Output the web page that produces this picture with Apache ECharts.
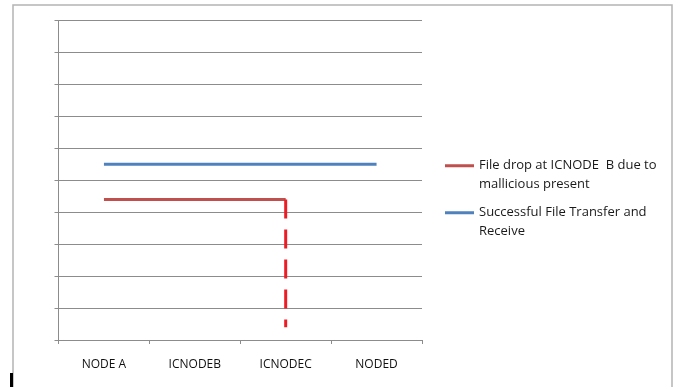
<!DOCTYPE html>
<html>
<head>
<meta charset="utf-8">
<script src="https://cdn.jsdelivr.net/npm/echarts@6/dist/echarts.min.js"></script>
<style>
  html, body { margin: 0; padding: 0; background: #fff; }
  #chart { width: 676px; height: 387px; }
</style>
</head>
<body>
<div id="chart"></div>
<script>
const categories = ['NODE A', 'ICNODEB', 'ICNODEC', 'NODED']
const dropName = 'File drop at ICNODE  B due to\nmallicious present'
const successName = 'Successful File Transfer and\nReceive'
const dropValues = [4.4, 4.4, 4.4]
const successValues = [5.5, 5.5, 5.5, 5.5]
// vertical dashed drop at ICNODEC: [categoryIndex, value]
const dropFall = [[2, 4.4], [2, 0.4]]

const chart = echarts.init(document.getElementById('chart'))
const gray = '#8c8c8c'

// legend swatch sits beside the first text line (box is 2 lines tall)
const swatch = 'path://M0,0L0.01,0L0.01,0.01ZM0,8L30,8L30,11L0,11ZM0,37.99L0.01,37.99L0.01,38Z'

chart.setOption({
  animation: false,
  textStyle: { fontFamily: 'Open Sans, Liberation Sans, sans-serif' },
  grid: { left: 58.5, right: 254, top: 20.5, bottom: 47 },
  legend: {
    orient: 'vertical',
    left: 445,
    top: 156,
    padding: 0,
    itemWidth: 29,
    itemHeight: 38,
    itemGap: 9,
    icon: swatch,
    data: [dropName, successName],
    textStyle: {
      fontSize: 13,
      color: '#1a1a1a',
      lineHeight: 19,
    },
  },
  xAxis: {
    type: 'category',
    data: categories,
    boundaryGap: true,
    axisLine: { lineStyle: { color: gray, width: 1 } },
    axisTick: { show: true, length: 4, lineStyle: { color: gray } },
    axisLabel: { color: '#111', fontSize: 12, margin: 19 },
    splitLine: { show: false },
  },
  yAxis: {
    type: 'value',
    min: 0,
    max: 10,
    interval: 1,
    axisLine: { show: true, lineStyle: { color: gray, width: 1 } },
    axisTick: { show: true, length: 4, lineStyle: { color: gray } },
    axisLabel: { show: false },
    splitLine: { lineStyle: { color: gray, width: 1 } },
  },
  graphic: [
    {
      type: 'rect',
      shape: { x: 13, y: 5, width: 659, height: 400 },
      style: { fill: 'none', stroke: '#b4b4b4', lineWidth: 1.5 },
      silent: true,
    },
    {
      type: 'rect',
      shape: { x: 10, y: 373, width: 3, height: 14 },
      style: { fill: '#000' },
      silent: true,
    },
  ],
  series: [
    {
      name: dropName,
      type: 'line',
      data: dropValues,
      symbol: 'none',
      lineStyle: { color: '#c0504d', width: 3 },
      itemStyle: { color: '#c0504d' },
    },
    {
      name: successName,
      type: 'line',
      data: successValues,
      symbol: 'none',
      lineStyle: { color: '#4f81bd', width: 3 },
      itemStyle: { color: '#4f81bd' },
    },
    {
      name: 'drop',
      type: 'line',
      data: dropFall,
      symbol: 'none',
      lineStyle: { color: '#ed1c24', width: 3, type: [19, 11] },
      itemStyle: { color: '#ed1c24' },
    },
  ],
})
</script>
</body>
</html>
